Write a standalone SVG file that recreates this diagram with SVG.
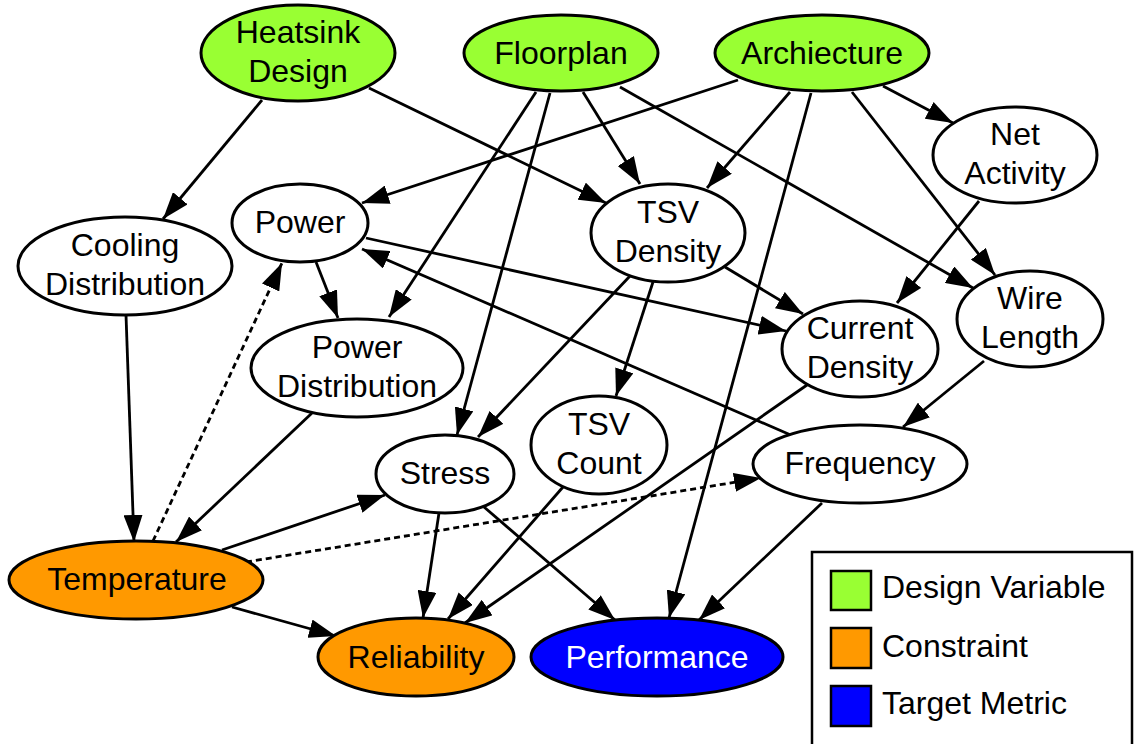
<svg xmlns="http://www.w3.org/2000/svg" width="1135" height="744" viewBox="0 0 1135 744">
  <style>
    .node ellipse { stroke: #000; stroke-width: 3; fill: #fff; }
    .design ellipse { fill: #99ff33; }
    .constraint ellipse { fill: #ff9900; }
    .target ellipse { fill: #0000ff; }
    text { font-family: "Liberation Sans", Arial, sans-serif; font-size: 32px; text-anchor: middle; fill: #000; }
    .target text { fill: #fff; }
    .edge { stroke: #000; stroke-width: 2.8; fill: none; marker-end: url(#arrow); }
    .dashed { stroke-dasharray: 6 4; }
    .legend rect { stroke: #000; stroke-width: 2.5; }
    .legend text { text-anchor: start; }
  </style>
  <defs>
    <marker id="arrow" markerUnits="userSpaceOnUse" markerWidth="27" markerHeight="19" viewBox="0 0 27 19" refX="27" refY="9.5" orient="auto">
      <path d="M0,0 L27,9.5 L0,19 z" fill="#000"/>
    </marker>
  </defs>
  <rect width="1135" height="744" fill="#fff"/>

  <!-- connectors -->
  <g id="edges">
    <path class="edge" d="M262,100 L163,219"/>
    <path class="edge" d="M369,88 L606,203"/>
    <path class="edge" d="M583,92 L640,184"/>
    <path class="edge" d="M536,92 L389,317"/>
    <path class="edge" d="M550,93 L457,435"/>
    <path class="edge" d="M738,80 L362,203"/>
    <path class="edge" d="M790,92 L707,188"/>
    <path class="edge" d="M811,93 L669,618"/>
    <path class="edge" d="M852,92 L995,275"/>
    <path class="edge" d="M883,86 L953,123"/>
    <path class="edge" d="M620,87 L973,288"/>
    <path class="edge" d="M979,201 L897,303"/>
    <path class="edge" d="M725,267 L803,314"/>
    <path class="edge" d="M366,238 L786,331"/>
    <path class="edge" d="M793,436 L362,249"/>
    <path class="edge" d="M316,262 L338,318"/>
    <path class="edge" d="M630,276 L478,437"/>
    <path class="edge" d="M653,282 L616,396"/>
    <path class="edge" d="M126,315 L134,542"/>
    <path class="edge" d="M312,413 L176,542"/>
    <path class="edge dashed" d="M153,541 L282,263"/>
    <path class="edge" d="M222,550 L385,495"/>
    <path class="edge dashed" d="M246,562 L761,478"/>
    <path class="edge" d="M232,607 L336,636"/>
    <path class="edge" d="M439,513 L423,618"/>
    <path class="edge" d="M484,507 L615,620"/>
    <path class="edge" d="M563,487 L448,619"/>
    <path class="edge" d="M807,385 L465,623"/>
    <path class="edge" d="M984,361 L903,427"/>
    <path class="edge" d="M822,503 L699,620"/>
  </g>

  <!-- design variables -->
  <g id="heatsink" class="node design">
    <ellipse cx="298" cy="53" rx="97" ry="48"/>
    <text x="298" y="43">Heatsink</text>
    <text x="298" y="82">Design</text>
  </g>
  <g id="floorplan" class="node design">
    <ellipse cx="561" cy="53" rx="97" ry="38"/>
    <text x="561" y="64">Floorplan</text>
  </g>
  <g id="architecture" class="node design">
    <ellipse cx="822" cy="53" rx="107" ry="38"/>
    <text x="822" y="64">Archiecture</text>
  </g>

  <!-- intermediate quantities -->
  <g id="net-activity" class="node">
    <ellipse cx="1015" cy="155" rx="82" ry="48"/>
    <text x="1015" y="145">Net</text>
    <text x="1015" y="184">Activity</text>
  </g>
  <g id="cooling-distribution" class="node">
    <ellipse cx="125" cy="266" rx="107" ry="49"/>
    <text x="125" y="256">Cooling</text>
    <text x="125" y="295">Distribution</text>
  </g>
  <g id="power" class="node">
    <ellipse cx="300" cy="223" rx="68" ry="39"/>
    <text x="300" y="233">Power</text>
  </g>
  <g id="tsv-density" class="node">
    <ellipse cx="668" cy="233" rx="77" ry="49"/>
    <text x="668" y="223">TSV</text>
    <text x="668" y="262">Density</text>
  </g>
  <g id="wire-length" class="node">
    <ellipse cx="1030" cy="319" rx="73" ry="48"/>
    <text x="1030" y="309">Wire</text>
    <text x="1030" y="348">Length</text>
  </g>
  <g id="current-density" class="node">
    <ellipse cx="860" cy="349" rx="78" ry="48"/>
    <text x="860" y="339">Current</text>
    <text x="860" y="378">Density</text>
  </g>
  <g id="power-distribution" class="node">
    <ellipse cx="357" cy="368" rx="106" ry="49"/>
    <text x="357" y="358">Power</text>
    <text x="357" y="397">Distribution</text>
  </g>
  <g id="tsv-count" class="node">
    <ellipse cx="599" cy="445" rx="68" ry="49"/>
    <text x="599" y="435">TSV</text>
    <text x="599" y="474">Count</text>
  </g>
  <g id="stress" class="node">
    <ellipse cx="445" cy="474" rx="69" ry="39"/>
    <text x="445" y="484">Stress</text>
  </g>
  <g id="frequency" class="node">
    <ellipse cx="860" cy="464" rx="107" ry="39"/>
    <text x="860" y="474">Frequency</text>
  </g>

  <!-- constraints and target -->
  <g id="temperature" class="node constraint">
    <ellipse cx="136" cy="580" rx="127" ry="39"/>
    <text x="137" y="590">Temperature</text>
  </g>
  <g id="reliability" class="node constraint">
    <ellipse cx="416" cy="657" rx="98" ry="39"/>
    <text x="416" y="668">Reliability</text>
  </g>
  <g id="performance" class="node target">
    <ellipse cx="657" cy="657" rx="126" ry="39"/>
    <text x="657" y="668">Performance</text>
  </g>

  <!-- legend -->
  <g id="legend" class="legend">
    <rect x="812" y="552" width="320" height="200" fill="#fff"/>
    <rect x="831" y="571" width="40" height="39" fill="#99ff33"/>
    <text x="882" y="598">Design Variable</text>
    <rect x="831" y="628" width="40" height="40" fill="#ff9900"/>
    <text x="882" y="657">Constraint</text>
    <rect x="831" y="686" width="40" height="40" fill="#0000ff"/>
    <text x="882" y="714">Target Metric</text>
  </g>
</svg>
